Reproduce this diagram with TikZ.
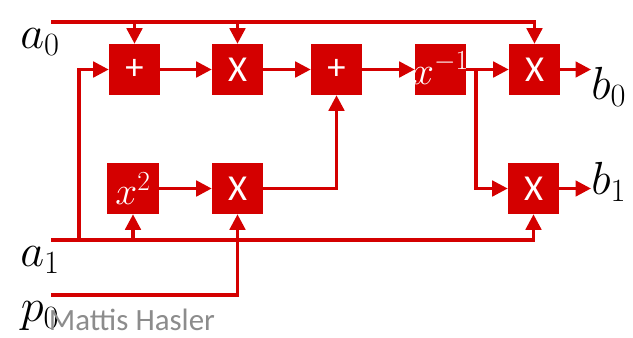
\RequirePackage{fix-cm}
\documentclass[tikz,border=0pt]{standalone}
\usepackage{fontspec}
\setsansfont{Carlito}
\usetikzlibrary{arrows.meta}
\definecolor{opred}{RGB}{212,0,0}

\begin{document}
\begin{tikzpicture}[x=0.025cm,y=-0.025cm,
  op/.style={fill=opred,minimum size=1.275cm,inner sep=0pt,text=white,
    font=\fontsize{26}{30}\selectfont\sffamily},
  mathop/.style={op,font=\fontsize{28}{32}\selectfont},
  flow/.style={-{Triangle[length=11pt,width=11pt]},draw=opred,line width=2.3pt},
  var/.style={font=\fontsize{33}{36}\selectfont,inner sep=0pt}]
\useasboundingbox (0,0) rectangle (633,337);
% operator boxes
\node[op] (plus1) at (134.5,69.5) {+};
\node[op] (mul1) at (237.5,69.5) {X};
\node[op] (plus2) at (336.5,69.5) {+};
\node[mathop] (inv) at (440.5,69.5) {\makebox[0pt]{\raisebox{2pt}{$x^{-1}$}}};
\node[op] (mul2) at (534.5,69.5) {X};
\node[mathop] (sq) at (133,188.5) {$x^{2}$};
\node[op] (mul3) at (237.5,188.5) {X};
\node[op] (mul4) at (533.5,188.5) {X};
% inputs and outputs
\node[var] (a0) at (40,42) {$a_0$};
\node[var] (a1) at (40,260) {$a_1$};
\node[var] (p0) at (40,316) {$p_0$};
\node[var,anchor=west] (b0) at (591,87) {$b_0$};
\node[var,anchor=west] (b1) at (591,182) {$b_1$};
\node[text=black!45,font=\fontsize{22}{26}\selectfont\sffamily] (name) at (132,320) {Mattis Hasler};
\coordinate (a0s) at (51,22);
\coordinate (a1s) at (51,240);
\coordinate (p0s) at (51,295);
\coordinate (a1b) at (79,240);
\coordinate (split) at (476,69.5);
% connections
\draw[flow] (a0s) -| (mul2.north);
\draw[flow] (plus1.north |- a0s) -- (plus1.north);
\draw[flow] (mul1.north |- a0s) -- (mul1.north);
\draw[flow] (a1s) -| (mul4.south);
\draw[flow] (sq.south |- a1s) -- (sq.south);
\draw[flow] (a1b) |- (plus1.west);
\draw[flow] (p0s) -| (mul3.south);
\draw[flow] (plus1) -- (mul1);
\draw[flow] (mul1) -- (plus2);
\draw[flow] (plus2) -- (inv);
\draw[flow] (inv) -- (mul2);
\draw[flow] (sq) -- (mul3);
\draw[flow] (mul3) -| (plus2.south);
\draw[flow] (split) |- (mul4.west);
\draw[flow] (mul2) -- (mul2 -| b0.west);
\draw[flow] (mul4) -- (mul4 -| b1.west);
\end{tikzpicture}
\end{document}
